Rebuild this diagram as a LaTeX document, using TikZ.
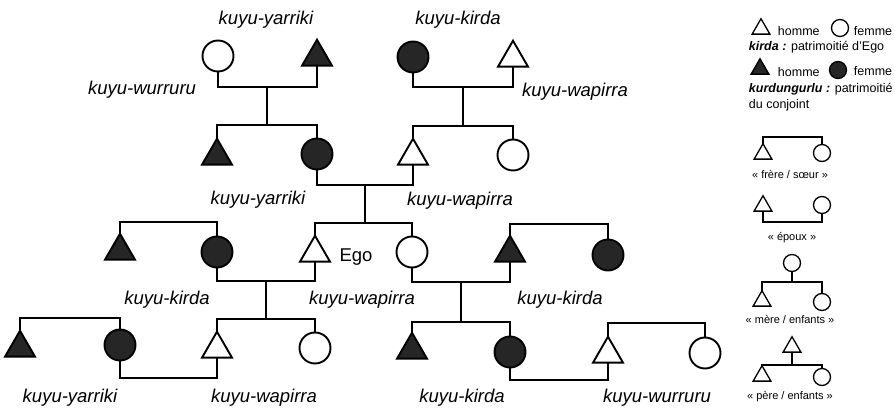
\documentclass[tikz,border=0pt]{standalone}
\usepackage{fontspec}
\setmainfont{Liberation Sans}
\usetikzlibrary{shapes.geometric}

\begin{document}
\begin{tikzpicture}[x=1pt,y=-1pt,line width=1.9pt,
    homme/.style={regular polygon,regular polygon sides=3,draw,fill=white,
      minimum size=34.6pt,inner sep=0pt,outer sep=0pt},
    femme/.style={circle,draw,fill=white,minimum size=31pt,inner sep=0pt,outer sep=0pt},
    hommeK/.style={homme,fill=black!85},
    femmeK/.style={femme,fill=black!85},
    petit/.style={minimum size=20.5pt,line width=1.3pt},
    petitc/.style={minimum size=17pt,line width=1.3pt},
    nom/.style={font=\fontsize{18.5}{20}\selectfont\itshape},
    leg/.style={font=\fontsize{12.5}{14}\selectfont,anchor=base west,inner sep=0pt},
    leg2/.style={font=\fontsize{11}{13}\selectfont,inner sep=0pt}]
  \useasboundingbox (0,0) rectangle (895,411);

  % grands-parents
  \node[femme]  (gm1) at (218,56) {};
  \node[hommeK] (gp1) at (317,57) {};
  \node[femmeK] (gm2) at (413,57) {};
  \node[homme]  (gp2) at (513,58) {};

  % parents
  \node[hommeK] (p1) at (217,156) {};
  \node[femmeK] (m1) at (317,154) {};
  \node[homme]  (p2) at (413,156) {};
  \node[femme]  (m2) at (513,155) {};

  % generation d'Ego
  \node[hommeK] (b1)  at (120,251) {};
  \node[femmeK] (e1)  at (217,252) {};
  \node[homme]  (ego) at (315,253) {};
  \node[femme]  (s1)  at (412,252) {};
  \node[hommeK] (h1)  at (510,253) {};
  \node[femmeK] (s2)  at (608,255) {};

  % enfants
  \node[hommeK] (c1) at (20,348) {};
  \node[femmeK] (c2) at (120,345) {};
  \node[homme]  (c3) at (217,349) {};
  \node[femme]  (c4) at (315,348) {};
  \node[hommeK] (c5) at (412,350) {};
  \node[femmeK] (c6) at (510,352) {};
  \node[homme]  (c7) at (608,354) {};
  \node[femme]  (c8) at (705,353) {};

  \coordinate (u1) at (267,87);  \coordinate (f1) at (267,125);
  \coordinate (u2) at (463,87);  \coordinate (f2) at (463,126);
  \coordinate (u3) at (365,185); \coordinate (f3) at (365,223);
  \coordinate (u4) at (266,281); \coordinate (f6) at (266,319);
  \coordinate (u5) at (461,282); \coordinate (f7) at (461,322);
  \coordinate (f4) at (168,222); \coordinate (f5) at (559,224);
  \coordinate (f8) at (70,318);  \coordinate (f9) at (657,323);
  \coordinate (u6) at (168,378); \coordinate (u7) at (559,380);

  \draw (gm1.south) |- (u1) -| (gp1.south);
  \draw (u1) -- (f1);
  \draw (p1.north) |- (f1) -| (m1.north);
  \draw (gm2.south) |- (u2) -| (gp2.south);
  \draw (u2) -- (f2);
  \draw (p2.north) |- (f2) -| (m2.north);
  \draw (m1.south) |- (u3) -| (p2.south);
  \draw (u3) -- (f3);
  \draw (ego.north) |- (f3) -| (s1.north);
  \draw (b1.north) |- (f4) -| (e1.north);
  \draw (h1.north) |- (f5) -| (s2.north);
  \draw (e1.south) |- (u4) -| (ego.south);
  \draw (u4) -- (f6);
  \draw (c3.north) |- (f6) -| (c4.north);
  \draw (s1.south) |- (u5) -| (h1.south);
  \draw (u5) -- (f7);
  \draw (c5.north) |- (f7) -| (c6.north);
  \draw (c1.north) |- (f8) -| (c2.north);
  \draw (c7.north) |- (f9) -| (c8.north);
  \draw (c2.south) |- (u6) -| (c3.south);
  \draw (c6.south) |- (u7) -| (c7.south);

  \node[nom] (n1)  at (266,20)  {kuyu-yarriki};
  \node[nom] (n2)  at (142,90)  {kuyu-wurruru};
  \node[nom] (n3)  at (458,20)  {kuyu-kirda};
  \node[nom] (n4)  at (575,92)  {kuyu-wapirra};
  \node[nom] (n5)  at (258,200) {kuyu-yarriki};
  \node[nom] (n6)  at (460,201) {kuyu-wapirra};
  \node[nom] (n7)  at (167,300) {kuyu-kirda};
  \node[nom] (n8)  at (362,300) {kuyu-wapirra};
  \node[nom] (n9)  at (560,300) {kuyu-kirda};
  \node[nom] (n10) at (70,398)  {kuyu-yarriki};
  \node[nom] (n11) at (264,398) {kuyu-wapirra};
  \node[nom] (n12) at (462,398) {kuyu-kirda};
  \node[nom] (n13) at (657,398) {kuyu-wurruru};
  \node[font=\fontsize{18.5}{20}\selectfont] (egol) at (356,257) {Ego};

  % legende
  \node[homme,petit]   (lh1) at (761,29) {};
  \node[leg]           (lt1) at (777,36) {homme};
  \node[femme,petitc]  (lf1) at (840,28) {};
  \node[leg]           (lt2) at (853,36) {femme};
  \node[leg]           (lt3) at (748,51) {\textbf{\textit{kirda :}} patrimoitié d'Ego};
  \node[hommeK,petit]  (lh2) at (760,69) {};
  \node[leg]           (lt4) at (777,77) {homme};
  \node[femmeK,petitc] (lf2) at (838,70) {};
  \node[leg]           (lt5) at (853,76) {femme};
  \node[leg]           (lt6) at (748,93) {\textbf{\textit{kurdungurlu :}} patrimoitié};
  \node[leg]           (lt7) at (748,109) {du conjoint};

  \begin{scope}[line width=1.3pt]
    \node[homme,petit]  (fr)  at (763,154) {};
    \node[femme,petitc] (so)  at (822,153) {};
    \node[homme,petit]  (ep1) at (763,206) {};
    \node[femme,petitc] (ep2) at (822,205) {};
    \node[femme,petitc] (me)  at (792,263) {};
    \node[homme,petit]  (me1) at (762,301) {};
    \node[femme,petitc] (me2) at (822,302) {};
    \node[homme,petit]  (pe)  at (792,347) {};
    \node[homme,petit]  (pe1) at (762,376) {};
    \node[femme,petitc] (pe2) at (822,377) {};
    \coordinate (lb1) at (792,137);
    \coordinate (lb2) at (792,222);
    \coordinate (lb3) at (792,282);
    \coordinate (lb4) at (792,365);
    \draw (fr.north) |- (lb1) -| (so.north);
    \draw (ep1.south) |- (lb2) -| (ep2.south);
    \draw (me.south) -- (lb3);
    \draw (me1.north) |- (lb3) -| (me2.north);
    \draw (pe.south) -- (lb4);
    \draw (pe1.north) |- (lb4) -| (pe2.north);
  \end{scope}
  \node[leg2] (lt8)  at (790,175) {« frère / sœur »};
  \node[leg2] (lt9)  at (792,238) {« époux »};
  \node[leg2] (lt10) at (790,320) {« mère / enfants »};
  \node[leg2] (lt11) at (790,397) {« père / enfants »};
\end{tikzpicture}
\end{document}
